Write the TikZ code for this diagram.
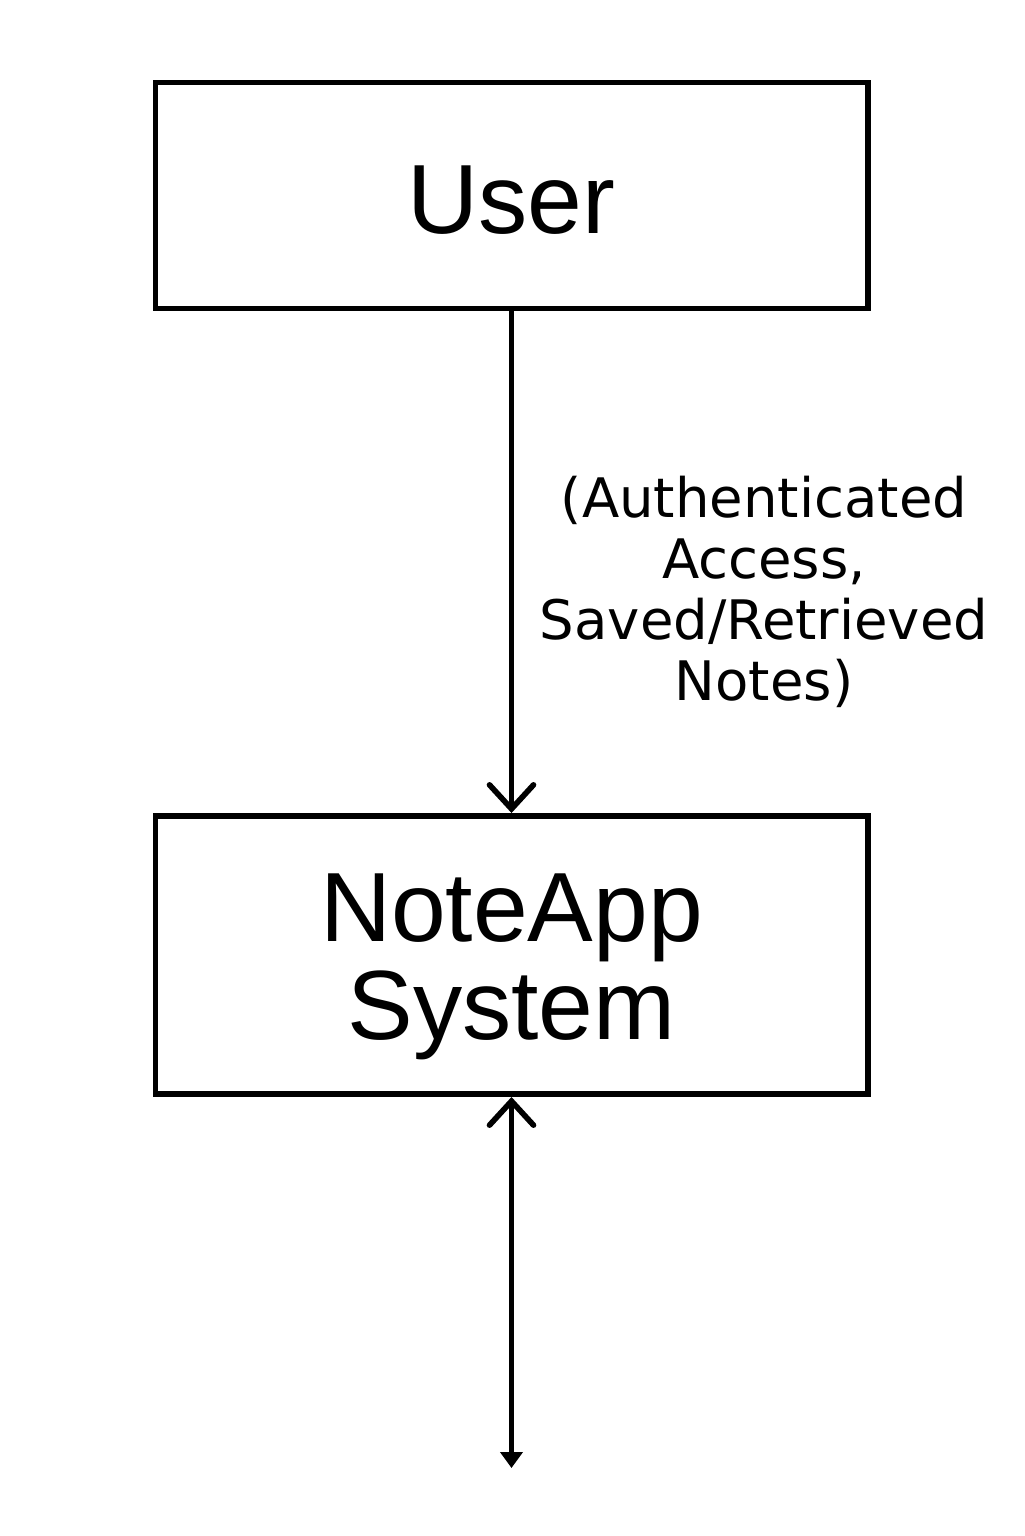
\documentclass[tikz,border=0pt]{standalone}
\usepackage{fontspec}
\setmainfont{Liberation Sans}
\newfontfamily\labelfont{DejaVu Sans}
\usetikzlibrary{arrows.meta}
\usetikzlibrary{positioning}

\tikzset{
    block/.style={draw, line width=1.7pt, minimum width=7.12cm, inner sep=0pt, font=\fontsize{28}{27.6}\selectfont},
    flow/.style={line width=1.4pt, -{Straight Barb[length=2.4mm,width=4.4mm,line width=1.6pt,line cap=round]}},
}

\begin{document}
\begin{tikzpicture}
    \useasboundingbox (0,0) rectangle (10.24,-15.36);
    %Blocks
        \node[block, minimum height=2.26cm] (user) at (5.115,-1.955) {\raisebox{-1.4pt}[\height][\depth]{User}};
        \node[block, minimum height=2.78cm] (noteapp) at (5.115,-9.55)
            {\raisebox{-4.6pt}[\height][\depth]{\begin{tabular}{@{}c@{}}NoteApp\\System\end{tabular}}};
        \coordinate (sink) at (5.115,-14.68);
    %Flows
        \draw[flow] (user.south) -- (noteapp.north);
        \node[align=center, font=\labelfont\fontsize{15.5}{17.3}\selectfont] (label) at (7.64,-5.92) {(Authenticated\\Access,\\Saved/Retrieved\\Notes)};
        \draw[flow, {Triangle[length=1.6mm,width=2.2mm]}-{Straight Barb[length=2.4mm,width=4.4mm,line width=1.6pt,line cap=round]}] (sink) -- (noteapp.south);
\end{tikzpicture}
\end{document}
